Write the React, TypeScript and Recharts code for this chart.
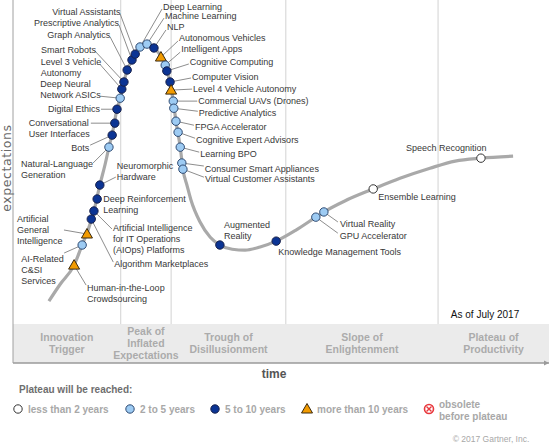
import React from 'react';
import {
  ComposedChart, Line, Scatter, XAxis, YAxis, ReferenceArea, ReferenceLine,
} from 'recharts';

// time runs 0-100 left to right, expectations 0-100 bottom to top (band sits below 0)
const CURVE_TIME = [
  6.7, 8.8, 11.4, 12.9, 14.0, 15.1, 16.2, 17.2, 17.9, 18.7, 19.4, 20.0, 20.7, 21.3, 22.2, 22.9,
  23.7, 25.0, 26.3, 27.2, 28.2, 28.7, 29.3, 29.9, 30.4, 31.2, 31.7, 32.5, 33.2, 34.9, 36.8, 38.6,
  40.9, 43.3, 46.1, 49.1, 52.8, 56.5, 58.0, 61.9, 67.2, 72.2, 77.8, 82.5, 87.3, 93.3,
];
const CURVE_EXPECT = [
  7.1, 12.3, 18.2, 24.4, 29.0, 34.9, 42.9, 49.4, 54.6, 60.2, 66.3, 69.7, 74.7, 78.4, 81.5, 83.9,
  85.5, 86.4, 85.2, 83.6, 80.8, 78.1, 74.7, 68.8, 62.6, 54.6, 47.8, 42.6, 38.3, 31.5, 26.8, 24.4,
  23.1, 22.8, 23.8, 25.6, 29.0, 33.0, 34.6, 38.0, 41.7, 45.0, 48.1, 50.3, 51.2, 51.8,
];

const TECH_NAMES = [
  'Human-in-the-Loop\nCrowdsourcing', 'AI-Related\nC&SI\nServices', 'Artificial\nGeneral\nIntelligence',
  'Algorithm Marketplaces', 'Artificial Intelligence\nfor IT Operations\n(AIOps) Platforms',
  'Deep Reinforcement\nLearning', 'Neuromorphic\nHardware', 'Natural-Language\nGeneration', 'Bots',
  'Conversational\nUser Interfaces', 'Digital Ethics', 'Deep Neural\nNetwork ASICs',
  'Level 3 Vehicle\nAutonomy', 'Smart Robots', 'Graph Analytics', 'Prescriptive Analytics',
  'Virtual Assistants', 'Deep Learning', 'Machine Learning', 'NLP', 'Autonomous Vehicles',
  'Intelligent Apps', 'Cognitive Computing', 'Computer Vision', 'Level 4 Vehicle Autonomy',
  'Commercial UAVs (Drones)', 'Predictive Analytics', 'FPGA Accelerator', 'Cognitive Expert Advisors',
  'Learning BPO', 'Consumer Smart Appliances', 'Virtual Customer Assistants', 'Augmented\nReality',
  'Knowledge Management Tools', 'GPU Accelerator', 'Virtual Reality', 'Ensemble Learning',
  'Speech Recognition',
];
const TECH_TIME = [
  11.4, 12.9, 13.8, 14.6, 15.1, 15.7, 16.2, 17.9, 18.5, 19.0, 19.4, 20.0, 20.3, 20.7, 21.3, 22.2,
  22.8, 23.7, 25.0, 26.3, 27.6, 28.4, 28.7, 29.3, 29.5, 29.9, 30.0, 30.4, 30.8, 31.2, 31.5, 31.7,
  38.6, 49.1, 56.5, 58.0, 67.2, 87.3,
];
const TECH_EXPECT = [
  18.2, 24.4, 27.8, 32.4, 34.9, 38.6, 42.9, 54.6, 58.3, 62.0, 66.3, 69.7, 72.5, 74.7, 78.4, 81.5,
  83.3, 85.5, 86.4, 85.2, 82.4, 79.9, 78.1, 74.7, 72.2, 68.8, 66.6, 62.6, 59.2, 54.6, 49.7, 47.8,
  24.4, 25.6, 33.0, 34.6, 41.7, 51.2,
];
// years to plateau: 0 = <2, 1 = 2-5, 2 = 5-10, 3 = >10
const TECH_PLATEAU = [
  3, 1, 3, 2, 2, 2, 2, 1, 2, 2, 2, 1, 2, 2, 2, 2,
  2, 1, 1, 2, 3, 1, 2, 2, 3, 1, 1, 1, 1, 1, 1, 1,
  2, 2, 1, 1, 0, 0,
];

const PHASES = [
  'Innovation\nTrigger', 'Peak of\nInflated\nExpectations', 'Trough of\nDisillusionment',
  'Slope of\nEnlightenment', 'Plateau of\nProductivity',
];
const PHASE_BOUNDS = [0, 20.1, 29.5, 50.9, 79.3, 100];
const LEGEND_LABELS = ['less than 2 years', '2 to 5 years', '5 to 10 years', 'more than 10 years', 'obsolete\nbefore plateau'];

// label placement relative to each dot, in px: text left/centre, leader start
const LABEL_LAYOUT: { dx: number; dy: number; lead?: [number, number] }[] = [
  { dx: 13, dy: 23, lead: [12, 20] },
  { dx: -61, dy: 14, lead: [-18, 8] },
  { dx: -70, dy: -15, lead: [-23, -4] },
  { dx: 23, dy: 45, lead: [22, 43] },
  { dx: 19, dy: 17, lead: [18, 18] },
  { dx: 6, dy: 0 },
  { dx: 17, dy: -19, lead: [16, -8] },
  { dx: -88, dy: 17, lead: [-16, 16] },
  { dx: -41, dy: 13, lead: [-22, 10] },
  { dx: -86, dy: 0, lead: [-24, 0] },
  { dx: -69, dy: 0, lead: [-16, 0] },
  { dx: -80, dy: -14, lead: [-20, -2] },
  { dx: -81, dy: -27, lead: [-22, -25] },
  { dx: -83, dy: -32, lead: [-29, -31] },
  { dx: -80, dy: -35, lead: [-17, -33] },
  { dx: -98, dy: -37, lead: [-13, -35] },
  { dx: -83, dy: -42, lead: [-15, -40] },
  { dx: 23, dy: -40, lead: [22, -38] },
  { dx: 18, dy: -28, lead: [17, -26] },
  { dx: 13, dy: -21, lead: [12, -18] },
  { dx: 18, dy: -19, lead: [17, -16] },
  { dx: 16, dy: -16, lead: [15, -13] },
  { dx: 23, dy: -9, lead: [22, -7] },
  { dx: 22, dy: -5, lead: [21, -4] },
  { dx: 22, dy: -1, lead: [21, -1] },
  { dx: 25, dy: 0, lead: [24, 0] },
  { dx: 25, dy: 5, lead: [24, 3] },
  { dx: 19, dy: 6, lead: [18, 4] },
  { dx: 18, dy: 8, lead: [17, 6] },
  { dx: 20, dy: 7, lead: [19, 5] },
  { dx: 23, dy: 6, lead: [22, 3] },
  { dx: 22, dy: 10, lead: [21, 8] },
  { dx: 4, dy: -20 },
  { dx: 2, dy: 11 },
  { dx: 24, dy: 19, lead: [22, 16] },
  { dx: 16, dy: 12, lead: [14, 10] },
  { dx: 5, dy: 8 },
  { dx: -75, dy: -10 },
];

const FONT = '"Liberation Sans", Arial, sans-serif';
const FILLS = ['#FFFFFF', '#9DCBF3', '#0B3494', '#F29B00'];
const STROKES = ['#333333', '#2E4A72', '#17204A', '#3A2A10'];

const curveData = CURVE_TIME.map((x, i) => ({ x, y: CURVE_EXPECT[i] }));
const techData = TECH_NAMES.map((name, i) => ({
  x: TECH_TIME[i], y: TECH_EXPECT[i], name, cat: TECH_PLATEAU[i], i,
}));

function Marker({ cx, cy, cat }: { cx: number; cy: number; cat: number }) {
  if (cat === 3) {
    return (
      <polygon
        points={`${cx},${cy - 5.5} ${cx + 5.5},${cy + 4} ${cx - 5.5},${cy + 4}`}
        fill={FILLS[3]} stroke={STROKES[3]} strokeWidth={1}
      />
    );
  }
  return <circle cx={cx} cy={cy} r={4.2} fill={FILLS[cat]} stroke={STROKES[cat]} strokeWidth={1} />;
}

function MarkerShape(props: any) {
  const { cx, cy, payload } = props;
  return <Marker cx={cx} cy={cy} cat={payload.cat} />;
}

function LabelShape(props: any) {
  const { cx, cy, payload } = props;
  const lay = LABEL_LAYOUT[payload.i];
  const lines: string[] = payload.name.split('\n');
  return (
    <g>
      {lay.lead && (
        <line x1={cx + lay.lead[0]} y1={cy + lay.lead[1]} x2={cx} y2={cy} stroke="#707070" strokeWidth={0.8} />
      )}
      <text x={cx + lay.dx} y={cy + lay.dy + 3} fontSize={9} fontFamily={FONT} fill="#383838">
        {lines.map((l, k) => (
          <tspan key={k} x={cx + lay.dx} dy={k ? 10.8 : 0}>{l}</tspan>
        ))}
      </text>
    </g>
  );
}

function BandLabel(props: any) {
  const { viewBox, text } = props;
  if (!viewBox) return null;
  const lines: string[] = text.split('\n');
  const mx = viewBox.x + viewBox.width / 2;
  const my = viewBox.y + viewBox.height / 2;
  const top = my - ((lines.length - 1) * 12) / 2 + 3.5;
  return (
    <text x={mx} y={top} textAnchor="middle" fontSize={10.5} fontWeight="bold" fontFamily={FONT} fill="#ABABAB">
      {lines.map((l, k) => (
        <tspan key={k} x={mx} dy={k ? 12 : 0}>{l}</tspan>
      ))}
    </text>
  );
}

function YTitle(props: any) {
  const { viewBox } = props;
  if (!viewBox) return null;
  const x = 7;
  const y = viewBox.y + viewBox.height * 0.463;
  return (
    <text x={x} y={y} transform={`rotate(-90 ${x} ${y})`} textAnchor="middle" dominantBaseline="central"
      fontSize={12.5} fontFamily='"DejaVu Sans", Verdana, sans-serif' fill="#6A6A6A" letterSpacing={0.6}>
      expectations
    </text>
  );
}

// "time" plus the plateau legend and credits under the axis
function Footer(props: any) {
  const { viewBox } = props;
  if (!viewBox) return null;
  const { x, y, width } = viewBox;
  const iconX = [18, 130, 215, 307];
  return (
    <g fontFamily={FONT}>
      <text x={x + width * 0.487} y={y + 15} textAnchor="middle" fontSize={12} fontWeight="bold" fill="#555">time</text>
      <text x={485} y={y - 49 + 3.5} textAnchor="middle" fontSize={10} fill="#111">As of July 2017</text>
      <text x={19} y={y + 30} fontSize={10} fontWeight="bold" fill="#6E6E6E">Plateau will be reached:</text>
      {iconX.map((ix, k) => (
        <g key={k}>
          <Marker cx={ix} cy={y + 46} cat={k} />
          <text x={ix + 10} y={y + 49.5} fontSize={10} fontWeight="bold" fill="#A8A8A8">{LEGEND_LABELS[k]}</text>
        </g>
      ))}
      <circle cx={429} cy={y + 46} r={4.5} fill="#fff" stroke="#E8383D" strokeWidth={1.6} />
      <path d={`M${426.5},${y + 43.5} L${431.5},${y + 48.5} M${431.5},${y + 43.5} L${426.5},${y + 48.5}`}
        stroke="#E8383D" strokeWidth={1.4} />
      <text x={439} y={y + 44.5} fontSize={10} fontWeight="bold" fill="#A8A8A8">
        {LEGEND_LABELS[4].split('\n').map((l, k) => (
          <tspan key={k} x={439} dy={k ? 12 : 0}>{l}</tspan>
        ))}
      </text>
      <text x={491} y={y + 79} textAnchor="middle" fontSize={8.5} fill="#A8A8A8">© 2017 Gartner, Inc.</text>
      <path d={`M${x + width - 5},${y - 2.5} L${x + width},${y} L${x + width - 5},${y + 2.5}`} fill="#9A9A9A" />
    </g>
  );
}

export default function App() {
  return (
    <div style={{ position: 'absolute', left: 0, top: 0, width: 550, height: 447, background: '#fff' }}>
      <ComposedChart width={550} height={447} margin={{ top: 0, right: 1, left: 0, bottom: 0 }}>
        <XAxis
          type="number" dataKey="x" domain={[0, 100]} allowDataOverflow
          tick={false} tickLine={false} height={84}
          axisLine={{ stroke: '#9A9A9A', strokeWidth: 1.5 }}
          label={<Footer />}
        />
        <YAxis
          type="number" dataKey="y" domain={[-12, 100]} allowDataOverflow
          tick={false} tickLine={false} width={13}
          axisLine={{ stroke: '#A0A0A0', strokeWidth: 1 }}
          label={<YTitle />}
        />
        <ReferenceArea x1={0} x2={100} y1={-12} y2={0} fill="#EBEBEB" fillOpacity={1} stroke="none" />
        {PHASES.map((p, k) => (
          <ReferenceArea
            key={p} x1={PHASE_BOUNDS[k]} x2={PHASE_BOUNDS[k + 1]} y1={-12} y2={0}
            fill="none" fillOpacity={0} stroke="none" label={<BandLabel text={p} />}
          />
        ))}
        {PHASE_BOUNDS.slice(1, -1).map((b) => (
          <ReferenceLine key={b} segment={[{ x: b, y: 0 }, { x: b, y: 100 }]} stroke="#D2D2D2" strokeWidth={1} />
        ))}
        <Line
          data={curveData} dataKey="y" type="monotone" stroke="#A9A9A9" strokeWidth={3.2}
          dot={false} activeDot={false} isAnimationActive={false}
        />
        <Scatter data={techData} shape={LabelShape} isAnimationActive={false} />
        <Scatter data={techData} shape={MarkerShape} isAnimationActive={false} />
      </ComposedChart>
    </div>
  );
}
